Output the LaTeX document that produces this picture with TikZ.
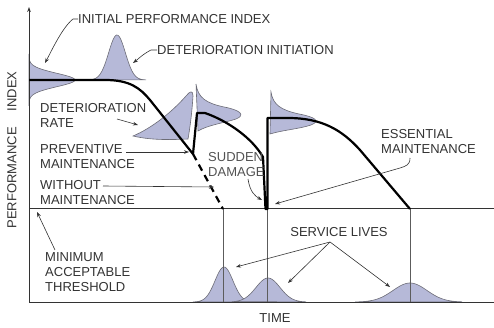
\documentclass[tikz,border=0pt]{standalone}
\usepackage{fontspec}
\setmainfont{Liberation Sans}
\usetikzlibrary{arrows.meta}
\definecolor{txt}{HTML}{333333}
\definecolor{lilac}{HTML}{B6B9D8}
\definecolor{edge}{HTML}{6C6C76}

\begin{document}
\begin{tikzpicture}[x=1pt, y=-1pt, >={Stealth[length=5pt,width=3.6pt]},
  every node/.style={align=left, inner sep=0pt, text=txt, font=\fontsize{13}{15}\selectfont},
  lbl/.style={anchor=west},
  dist/.style={fill=lilac, draw=edge, line width=0.6pt},
  leader/.style={->, draw=txt, line width=0.6pt},
  perf/.style={line width=2.2pt, line join=round},
  axis/.style={draw=txt, line width=1pt},
  drop/.style={draw=txt!80, line width=0.7pt}]
  \useasboundingbox (0,0) rectangle (494,328);

  % distributions
  \filldraw[dist] plot[domain=-26:26, samples=60, smooth] ({29+46*exp(-(\x*\x)/90)}, {80+\x}) -- cycle;
  \filldraw[dist] plot[domain=90:146, samples=60, smooth] (\x, {80-45*exp(-((\x-117)^2)/140)}) -- cycle;
  \filldraw[dist] (133,136) .. controls (152,128) and (172,112) .. (186,96)
    .. controls (190,91) and (193,90) .. (193,96)
    .. controls (192,112) and (190,128) .. (188,139)
    .. controls (168,140) and (150,140) .. (133,136) -- cycle;
  \filldraw[dist] (196,84) .. controls (198,98) and (206,103) .. (224,107)
    .. controls (240,110) and (246,115) .. (236,119)
    .. controls (224,123) and (208,125) .. (198,131) -- cycle;
  \filldraw[dist] (271,92) .. controls (273,105) and (281,110) .. (299,114)
    .. controls (315,117) and (321,121) .. (311,125)
    .. controls (299,129) and (283,130) .. (270,134) -- cycle;
  \filldraw[dist] plot[domain=193:256, samples=50, smooth] (\x, {302-35*exp(-((\x-224)^2)/162)}) -- cycle;
  \filldraw[dist] plot[domain=232:306, samples=50, smooth] (\x, {302-24*exp(-((\x-268)^2)/288)}) -- cycle;
  \filldraw[dist] plot[domain=355:462, samples=60, smooth] (\x, {302-19*exp(-((\x-410)^2)/578)}) -- cycle;

  % axes and threshold
  \coordinate (origin) at (29,302);
  \coordinate (top) at (29,7);
  \coordinate (right) at (494,302);
  \coordinate (thl) at (29,209);
  \coordinate (thr) at (494,209);
  \draw[axis, ->] (origin) -- (top);
  \draw[axis] (origin) -- (right);
  \draw[axis] (thl) -- (thr);

  % service life drops
  \coordinate (wo end) at (223,209);
  \coordinate (sd end) at (267,209);
  \coordinate (es end) at (410,209);
  \draw[drop] (wo end) -- (wo end |- origin);
  \draw[drop] (sd end) -- (sd end |- origin);
  \draw[drop] (es end) -- (es end |- origin);

  % performance profile
  \coordinate (pm) at (193,154);
  \draw[perf] (29,80) -- (105,80) .. controls (130,80) and (140,88) .. (150,100) -- (pm)
    -- (197,113) -- (205,113) .. controls (228,121) and (252,138) .. (263,157) -- (265.5,209)
    -- (267.5,209) -- (267.5,118) -- (288,118) .. controls (322,118) and (342,130) .. (360,150) -- (es end);
  \draw[perf, dash pattern=on 7pt off 5pt] (pm) -- (wo end);

  % labels
  \node[lbl] (ipi) at (78,19) {INITIAL PERFORMANCE INDEX};
  \node[lbl] (init) at (157,50) {DETERIORATION INITIATION};
  \node[lbl] (rate) at (40,115) {DETERIORATION\\RATE};
  \node[lbl] (prev) at (40,156.5) {PREVENTIVE\\MAINTENANCE};
  \node[lbl] (without) at (40,192.5) {WITHOUT\\MAINTENANCE};
  \node[lbl, text=txt!85] (sudden) at (208,165) {SUDDEN\\DAMAGE};
  \node[lbl] (essential) at (381,141.5) {ESSENTIAL\\MAINTENANCE};
  \node[lbl] (threshold) at (45,272.5) {MINIMUM\\ACCEPTABLE\\THRESHOLD};
  \node (lives) at (339,232) {SERVICE LIVES};
  \node (time) at (275,318) {TIME};
  \node[rotate=90] (ylabel) at (12,150) {PERFORMANCE\hspace{16pt}INDEX};

  % leaders
  \coordinate (ipi tip) at (45,63);
  \coordinate (init tip) at (133,63);
  \coordinate (rate from) at (117,119);
  \coordinate (rate tip) at (138,125);
  \coordinate (prev from) at (126,152);
  \coordinate (prev tip) at (189,152);
  \coordinate (wo from) at (103,186);
  \coordinate (wo tip) at (214,187);
  \coordinate (sd from) at (248,179);
  \coordinate (sd tip) at (262,200);
  \coordinate (es from) at (410,158);
  \coordinate (es tip) at (275,204);
  \coordinate (th from) at (55,250);
  \coordinate (th tip) at (37,212);
  \coordinate (lives from) at (330,242);
  \coordinate (lv1) at (236,267);
  \coordinate (lv2) at (288,283);
  \coordinate (lv3) at (390,287);
  \draw[leader] (ipi.west) -- ++(-5,0) .. controls (62,28) and (52,50) .. (ipi tip);
  \draw[leader] (init.west) -- ++(-6,0) .. controls (143,54) and (137,60) .. (init tip);
  \draw[leader] (rate from) -- (rate tip);
  \draw[leader] (prev from) -- (prev tip);
  \draw[leader] (wo from) -- (wo tip);
  \draw[leader] (sd from) .. controls (250,192) and (255,196) .. (sd tip);
  \draw[leader] (es from) .. controls (410,165) and (406,166) .. (400,168) -- (es tip);
  \draw[leader] (th from) -- (th tip);
  \draw[leader] (lives from) -- (lv1);
  \draw[leader] (lives from) -- (lv2);
  \draw[leader] (lives from) -- (lv3);
\end{tikzpicture}
\end{document}
